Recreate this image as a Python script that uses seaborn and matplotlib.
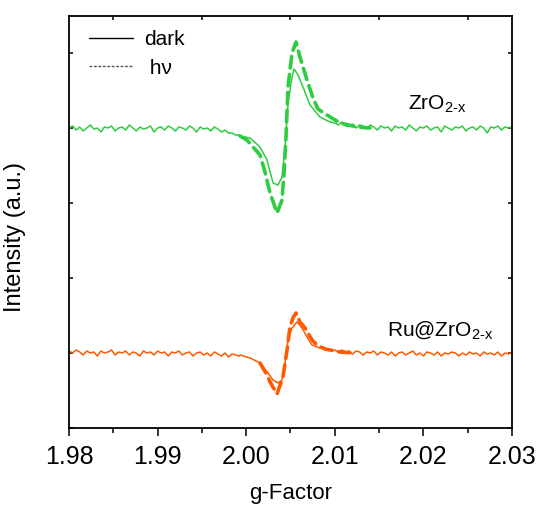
import numpy as np
import pandas as pd
import matplotlib
matplotlib.use("Agg")
import matplotlib.pyplot as plt
from matplotlib.lines import Line2D
import seaborn as sns

# ---------------- data ----------------
# baseline sampling
base_step = 0.0004
left_start = 1.9800
right_start = 2.0100

# ZrO2-x, dark: baseline noise and signal
zro_dark_left = [300, 302, 298, 301, 297, 300, 303, 299, 300, 296, 301, 300, 302, 297, 300,
                 301, 298, 303, 300, 297, 301, 299, 300, 302, 296, 300, 301, 298, 302, 300,
                 297, 301, 300, 298, 302, 300, 296, 301, 299, 300, 297, 301, 299, 296, 298,
                 295, 295, 293, 293]
zro_dark_sig_g = [1.99930, 2.00043, 2.00156, 2.00235, 2.00303, 2.00359, 2.00404, 2.00438,
                  2.00472, 2.00517, 2.00540, 2.00585, 2.00641, 2.00720, 2.00833, 2.00946]
zro_dark_sig_i = [292, 290, 281, 268, 245, 243, 251, 281, 325, 351, 359, 353, 341, 323, 311, 306]
zro_dark_right = [305, 303, 306, 302, 302, 304, 300, 303, 302, 299, 303, 301, 298, 302, 300,
                  301, 297, 302, 300, 301, 298, 303, 300, 297, 301, 300, 302, 298, 300, 301,
                  296, 302, 300, 298, 301, 300, 302, 297, 300, 301, 298, 302, 300, 295, 301,
                  300, 302, 298, 301, 300, 301]

# ZrO2-x, hv (signal region)
zro_hv_g = [1.99930, 2.00009, 2.00077, 2.00156, 2.00212, 2.00269, 2.00348, 2.00404, 2.00427,
            2.00449, 2.00472, 2.00517, 2.00562, 2.00607, 2.00686, 2.00754, 2.00810, 2.00912,
            2.01059, 2.01251, 2.01397]
zro_hv_i = [292, 288, 281, 273, 256, 235, 215, 228, 255, 291, 341, 375, 386, 371, 348, 330,
            319, 313, 305, 301, 300]

# Ru@ZrO2-x, dark
ru_dark_left = [77, 75, 78, 76, 73, 77, 75, 76, 72, 77, 75, 76, 78, 73, 76, 75, 77, 73, 76,
                75, 72, 77, 75, 76, 73, 77, 75, 76, 72, 76, 75, 77, 73, 75, 76, 72, 75, 76,
                73, 75, 72, 76, 74, 72, 75, 71, 74, 73, 72]
ru_dark_sig_g = [1.99930, 2.00043, 2.00156, 2.00246, 2.00303, 2.00359, 2.00404, 2.00438,
                 2.00472, 2.00517, 2.00573, 2.00630, 2.00686, 2.00743, 2.00833, 2.00980]
ru_dark_sig_i = [73, 70, 65, 55, 48, 45, 48, 65, 88, 100, 106, 100, 91, 83, 80, 78]
ru_dark_right = [78, 76, 78, 76, 77, 74, 77, 76, 73, 76, 75, 77, 73, 76, 75, 73, 76, 72, 75,
                 76, 73, 75, 77, 73, 75, 72, 76, 75, 73, 76, 72, 75, 74, 76, 75, 72, 75, 73,
                 76, 74, 75, 72, 76, 74, 75, 73, 76, 72, 75, 74, 76]

# Ru@ZrO2-x, hv (signal region)
ru_hv_g = [2.00156, 2.00235, 2.00269, 2.00348, 2.00415, 2.00461, 2.00494, 2.00528, 2.00562,
           2.00607, 2.00664, 2.00743, 2.00799, 2.00889, 2.01059, 2.01228]
ru_hv_i = [65, 53, 46, 34, 51, 78, 101, 110, 115, 106, 100, 88, 83, 79, 76, 75]

x_ticks = [1.98, 1.99, 2.00, 2.01, 2.02, 2.03]
x_tick_labels = ["1.98", "1.99", "2.00", "2.01", "2.02", "2.03"]
x_minor = [1.985, 1.995, 2.005, 2.015, 2.025]
y_ticks = [0, 75, 150, 225, 300, 375]

green = "#2ECC40"
orange = "#FF5A00"


def dark_series(left, sig_g, sig_i, right):
    gl = left_start + base_step * np.arange(len(left))
    gr = right_start + base_step * np.arange(len(right))
    g = np.concatenate([gl, sig_g, gr])
    i = np.concatenate([left, sig_i, right])
    return pd.DataFrame({"g": g, "I": i})


df_zro_dark = dark_series(zro_dark_left, zro_dark_sig_g, zro_dark_sig_i, zro_dark_right)
df_ru_dark = dark_series(ru_dark_left, ru_dark_sig_g, ru_dark_sig_i, ru_dark_right)
df_zro_hv = pd.DataFrame({"g": zro_hv_g, "I": zro_hv_i})
df_ru_hv = pd.DataFrame({"g": ru_hv_g, "I": ru_hv_i})

# ---------------- style ----------------
sns.set_theme(style="white")
plt.rcParams["font.family"] = ["Liberation Sans", "DejaVu Sans"]
plt.rcParams["mathtext.fontset"] = "custom"
plt.rcParams["mathtext.rm"] = "Liberation Sans"
plt.rcParams["mathtext.it"] = "Liberation Sans:italic"
plt.rcParams["mathtext.default"] = "regular"
plt.rcParams["text.color"] = "black"
plt.rcParams["axes.labelcolor"] = "black"
plt.rcParams["xtick.color"] = "black"
plt.rcParams["ytick.color"] = "black"

fig = plt.figure(figsize=(5.41, 5.07), dpi=100)
ax = fig.add_axes([69 / 541, 1 - 428 / 507, 443 / 541, (428 - 15.7) / 507])

sns.lineplot(data=df_zro_dark, x="g", y="I", ax=ax, color=green, lw=1.1,
             estimator=None, sort=False)
sns.lineplot(data=df_zro_hv, x="g", y="I", ax=ax, color=green, lw=2.6,
             estimator=None, sort=False)
sns.lineplot(data=df_ru_dark, x="g", y="I", ax=ax, color=orange, lw=1.1,
             estimator=None, sort=False)
sns.lineplot(data=df_ru_hv, x="g", y="I", ax=ax, color=orange, lw=2.6,
             estimator=None, sort=False)
for ln in ax.lines[1::2]:
    ln.set_dashes((3.2, 1.8))
    ln.set_dash_capstyle("round")

ax.set_xlim(1.98, 2.03)
ax.set_ylim(0, 412.3)
ax.set_xticks(x_ticks)
ax.set_xticklabels(x_tick_labels, fontsize=18)
ax.set_xticks(x_minor, minor=True)
ax.set_yticks(y_ticks)
ax.set_yticklabels([])
ax.tick_params(axis="x", which="major", direction="out", length=6, width=1.1,
               bottom=True, top=False, pad=6)
ax.tick_params(axis="x", which="minor", direction="out", length=3.5, width=1.1,
               bottom=True, top=False)
ax.tick_params(axis="y", which="major", direction="in", length=3, width=1.1,
               left=True, right=True)

# top minor ticks pointing inward
secx = ax.secondary_xaxis("top")
secx.set_xticks(x_minor)
secx.set_xticklabels([])
secx.tick_params(direction="in", length=3, width=1.1)
secx.spines["top"].set_visible(False)

for s in ax.spines.values():
    s.set_linewidth(1.3)
    s.set_color("black")

ax.set_xlabel("g-Factor", fontsize=16, labelpad=10)
ax.set_ylabel("Intensity (a.u.)", fontsize=17)
ax.yaxis.set_label_coords(-0.097, 0.463)

ax.text(2.01826, 318, r"ZrO$_{\text{2-x}}$", fontsize=15, ha="left", va="baseline")
ax.text(2.01589, 92, r"Ru@ZrO$_{\text{2-x}}$", fontsize=15, ha="left", va="baseline")

handles = [Line2D([], [], color="black", lw=1.0),
           Line2D([], [], color="#555555", lw=1.0, dashes=(2, 1.2))]
ax.legend(handles, ["dark", " h\u03bd"], loc="upper left",
          bbox_to_anchor=(0.045, 0.965), frameon=False, fontsize=15,
          handlelength=2.1, handletextpad=0.55, labelspacing=0.45,
          borderpad=0, borderaxespad=0)

fig.savefig("out.png", dpi=100)
